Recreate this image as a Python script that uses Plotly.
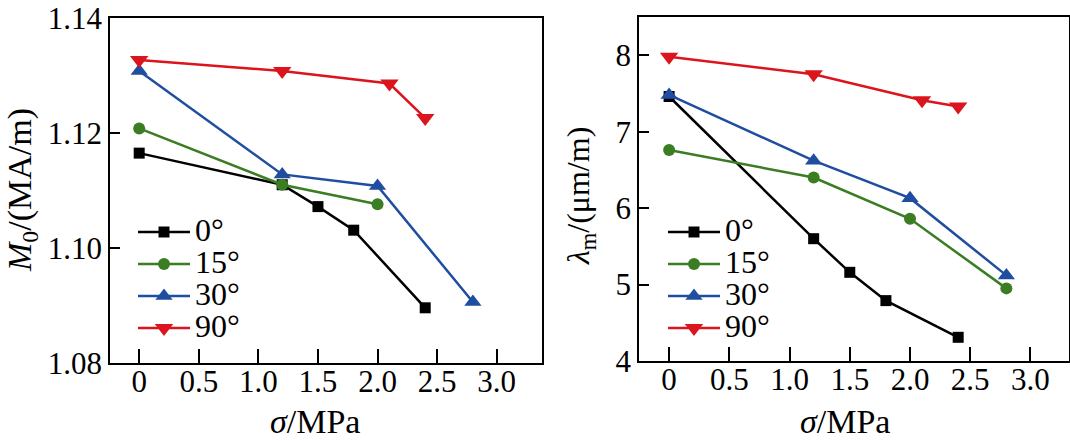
import plotly.graph_objects as go

# ---------------- data ----------------
labels = ["0°", "15°", "30°", "90°"]
colors = ["#000000", "#3a7d22", "#1f4ea0", "#dc141e"]
symbols = ["square", "circle", "triangle-up", "triangle-down"]
msizes = [11, 12, 15, 16]

m0_x = [
    [0, 1.2, 1.5, 1.8, 2.4],
    [0, 1.2, 2.0],
    [0, 1.2, 2.0, 2.8],
    [0, 1.2, 2.1, 2.4],
]
m0_y = [
    [1.1165, 1.1110, 1.1072, 1.1031, 1.0896],
    [1.1208, 1.1110, 1.1076],
    [1.1308, 1.1128, 1.1108, 1.0906],
    [1.1327, 1.1308, 1.1286, 1.1226],
]

lam_x = [
    [0, 1.2, 1.5, 1.8, 2.4],
    [0, 1.2, 2.0, 2.8],
    [0, 1.2, 2.0, 2.8],
    [0, 1.2, 2.1, 2.4],
]
lam_y = [
    [7.46, 5.60, 5.16, 4.79, 4.31],
    [6.76, 6.40, 5.86, 4.95],
    [7.48, 6.62, 6.13, 5.12],
    [7.98, 7.75, 7.41, 7.33],
]

x_tickvals = [0, 0.5, 1.0, 1.5, 2.0, 2.5, 3.0]
x_ticktext = ["0", "0.5", "1.0", "1.5", "2.0", "2.5", "3.0"]
m0_ticks = [1.08, 1.10, 1.12, 1.14]
lam_ticks = [4, 5, 6, 7, 8]

FONT = "Times New Roman, Liberation Serif, serif"
W, H = 1070, 441

fig = go.Figure()

def legend_name(s):
    return '<span style="font-size:32px">' + s + '</span>'

for i in range(4):
    fig.add_trace(go.Scatter(
        x=m0_x[i], y=m0_y[i], mode="lines+markers", name=legend_name(labels[i]),
        line=dict(color=colors[i], width=2.5),
        marker=dict(symbol=symbols[i], size=msizes[i], color=colors[i]),
        xaxis="x", yaxis="y", legend="legend",
    ))
for i in range(4):
    fig.add_trace(go.Scatter(
        x=lam_x[i], y=lam_y[i], mode="lines+markers", name=legend_name(labels[i]),
        line=dict(color=colors[i], width=2.5),
        marker=dict(symbol=symbols[i], size=msizes[i], color=colors[i]),
        xaxis="x2", yaxis="y2", legend="legend2",
    ))

def px_x(p):
    return p / W

def px_y(p):
    return 1 - p / H

axis_common = dict(
    showline=True, linecolor="black", linewidth=1.5, mirror=True,
    showgrid=False, zeroline=False, ticks="inside", automargin=False,
    tickcolor="black", tickwidth=1.5,
    tickfont=dict(family=FONT, size=31, color="black"),
)

legend_common = dict(
    xanchor="left", yanchor="top",
    bgcolor="rgba(0,0,0,0)", borderwidth=0,
    font=dict(family=FONT, size=22.3, color="black"),
    tracegroupgap=0, itemwidth=52,
)

fig.update_layout(
    width=W, height=H, autosize=False,
    margin=dict(l=0, r=0, t=0, b=0, pad=0, autoexpand=False),
    paper_bgcolor="white", plot_bgcolor="white",
    font=dict(family=FONT, color="black", size=28),
    xaxis=dict(domain=[px_x(110), px_x(542)], range=[-0.245, 3.38],
               tickvals=x_tickvals, ticktext=x_ticktext, ticklen=14,
               ticklabelstandoff=-10, anchor="y", **axis_common),
    yaxis=dict(domain=[px_y(363), px_y(18)], range=[1.08, 1.14],
               tickvals=m0_ticks, tickformat=".2f", ticklen=10,
               anchor="x", **axis_common),
    xaxis2=dict(domain=[px_x(639), px_x(1069)], range=[-0.25, 3.32],
                tickvals=x_tickvals, ticktext=x_ticktext, ticklen=14,
                ticklabelstandoff=-10, anchor="y2", **axis_common),
    yaxis2=dict(domain=[px_y(361), px_y(17)], range=[4, 8.5],
                tickvals=lam_ticks, ticklen=10,
                anchor="x2", **axis_common),
    legend=dict(x=px_x(133), y=px_y(211), **legend_common),
    legend2=dict(x=px_x(663), y=px_y(211), **legend_common),
    annotations=[
        dict(text="<i>σ</i>/MPa", x=px_x(315), y=px_y(421), xref="paper", yref="paper",
             xanchor="center", yanchor="middle",
             showarrow=False, font=dict(family=FONT, size=34, color="black")),
        dict(text="<i>σ</i>/MPa", x=px_x(845), y=px_y(421), xref="paper", yref="paper",
             xanchor="center", yanchor="middle",
             showarrow=False, font=dict(family=FONT, size=34, color="black")),
        dict(text="<i>M</i><sub>0</sub>/(MA/m)", x=px_x(22), y=px_y(190), xref="paper", yref="paper",
             xanchor="center", yanchor="middle",
             textangle=-90, showarrow=False, font=dict(family=FONT, size=34, color="black")),
        dict(text="<i>λ</i><sub>m</sub>/(μm/m)", x=px_x(580), y=px_y(196), xref="paper", yref="paper",
             xanchor="center", yanchor="middle",
             textangle=-90, showarrow=False, font=dict(family=FONT, size=32, color="black")),
    ],
)

fig.write_html("out.html", config={"displayModeBar": False},
               post_script="document.body.style.margin='0';document.body.style.overflow='hidden';")
